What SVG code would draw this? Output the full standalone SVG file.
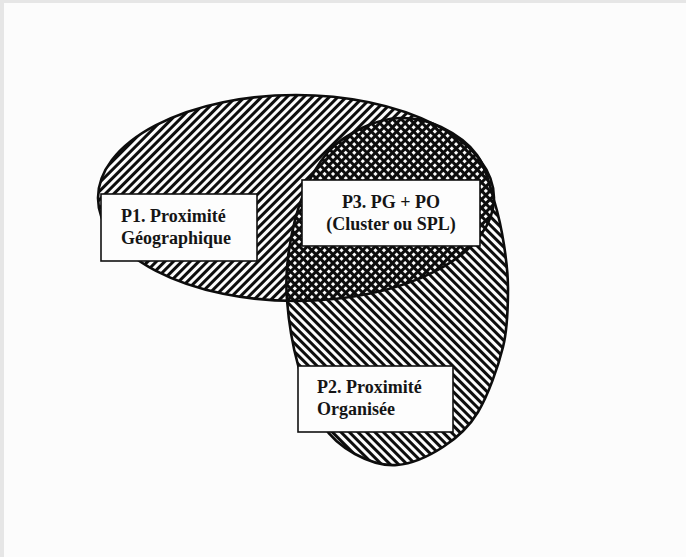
<svg xmlns="http://www.w3.org/2000/svg" width="686" height="557" viewBox="0 0 686 557">
  <style>
    .outline { fill: none; stroke: #0d0d0d; stroke-width: 2.6; }
    .box { fill: #fdfdfd; stroke: #111; stroke-width: 1.6; }
    .lbl { font-family: "Liberation Serif", "Times New Roman", serif; font-weight: bold; font-size: 18px; fill: #151515; }
  </style>
  <defs>
    <pattern id="fwd" patternUnits="userSpaceOnUse" width="6" height="10" patternTransform="rotate(45)">
      <rect width="6" height="10" fill="#fcfcfc"/>
      <rect width="3" height="10" fill="#0d0d0d"/>
    </pattern>
    <pattern id="back" patternUnits="userSpaceOnUse" width="6" height="10" patternTransform="rotate(-45)">
      <rect width="6" height="10" fill="#fcfcfc"/>
      <rect width="3" height="10" fill="#0d0d0d"/>
    </pattern>
    <pattern id="fwdLines" patternUnits="userSpaceOnUse" width="6" height="10" patternTransform="rotate(45)">
      <rect width="3" height="10" fill="#0d0d0d"/>
    </pattern>
    <clipPath id="clipP1">
      <ellipse cx="296" cy="198" rx="198" ry="103"/>
    </clipPath>
    <path id="p2shape" d="M400,118 C413.2,117.8 428.2,120.8 441,127 C453.8,133.2 468.2,142.8 477,155 C485.8,167.2 489.5,185 494,200 C498.5,215 501.7,230 504,245 C506.3,260 508.2,273 508,290 C507.8,307 508,326.7 503,347 C498,367.3 488,395.3 478,412 C468,428.7 456.5,438.2 443,447 C429.5,455.8 411.7,463.8 397,465 C382.3,466.2 367.5,460.8 355,454 C342.5,447.2 331.5,438.8 322,424 C312.5,409.2 303.8,385.7 298,365 C292.2,344.3 288.5,319.2 287,300 C285.5,280.8 286.3,267.5 289,250 C291.7,232.5 296.5,211.3 303,195 C309.5,178.7 318.2,163.2 328,152 C337.8,140.8 350,133.7 362,128 C374,122.3 386.8,118.2 400,118 Z"/>
  </defs>

  <rect x="0" y="0" width="686" height="557" fill="#e6e6e6"/>
  <rect x="4" y="3" width="682" height="554" fill="#fcfcfc"/>

  <g id="p1-area">
    <ellipse cx="296" cy="198" rx="198" ry="103" fill="url(#fwd)"/>
  </g>
  <g id="p2-area">
    <use href="#p2shape" fill="url(#back)"/>
  </g>
  <g id="p3-area">
    <use href="#p2shape" fill="url(#fwdLines)" clip-path="url(#clipP1)"/>
  </g>
  <g id="outlines">
    <ellipse class="outline" cx="296" cy="198" rx="198" ry="103"/>
    <use href="#p2shape" class="outline"/>
  </g>

  <g id="p1">
    <rect class="box" x="101" y="194" width="156" height="67"/>
    <text class="lbl" x="121" y="222">P1. Proximité</text>
    <text class="lbl" x="121" y="244">Géographique</text>
  </g>
  <g id="p3">
    <rect class="box" x="302" y="180" width="178" height="66"/>
    <text class="lbl" x="391" y="208" text-anchor="middle">P3. PG + PO</text>
    <text class="lbl" x="391" y="230" text-anchor="middle">(Cluster ou SPL)</text>
  </g>
  <g id="p2">
    <rect class="box" x="298" y="366" width="155" height="66"/>
    <text class="lbl" x="317" y="393">P2. Proximité</text>
    <text class="lbl" x="317" y="415">Organisée</text>
  </g>
</svg>
